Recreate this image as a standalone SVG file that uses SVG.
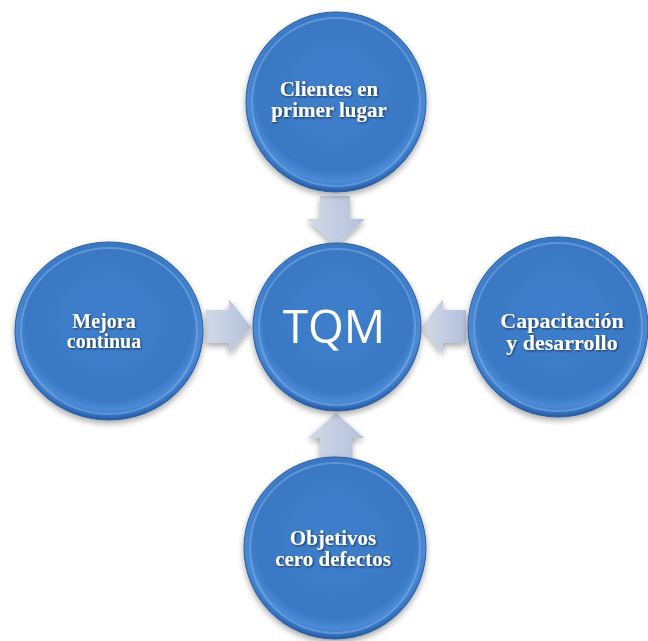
<svg xmlns="http://www.w3.org/2000/svg" width="648" height="641" viewBox="0 0 648 641">
  <defs>
    <radialGradient id="ball" cx="50%" cy="45%" r="55%">
      <stop offset="0" stop-color="#3f7fcb"/>
      <stop offset="0.8" stop-color="#3a78c4"/>
      <stop offset="0.9" stop-color="#4b8bd6"/>
      <stop offset="0.96" stop-color="#3370bd"/>
      <stop offset="1" stop-color="#24579b"/>
    </radialGradient>
    <linearGradient id="arrH" x1="0" y1="0" x2="1" y2="0">
      <stop offset="0" stop-color="#d2d9e8"/>
      <stop offset="1" stop-color="#b4c0da"/>
    </linearGradient>
    <filter id="shadow" x="-20%" y="-20%" width="140%" height="140%">
      <feGaussianBlur in="SourceAlpha" stdDeviation="3"/>
      <feOffset dy="3" result="b"/>
      <feComponentTransfer><feFuncA type="linear" slope="0.35"/></feComponentTransfer>
      <feMerge><feMergeNode/><feMergeNode in="SourceGraphic"/></feMerge>
    </filter>
    <filter id="tshadow" x="-10%" y="-30%" width="120%" height="160%">
      <feGaussianBlur in="SourceAlpha" stdDeviation="0.8"/>
      <feOffset dx="1" dy="1"/>
      <feComponentTransfer><feFuncA type="linear" slope="0.6"/></feComponentTransfer>
      <feMerge><feMergeNode/><feMergeNode in="SourceGraphic"/></feMerge>
    </filter>
  </defs>
  <style>
    .ball { fill: url(#ball); stroke: #2a5c9e; stroke-width: 1; }
    .rim { fill: none; stroke: #8fb8ea; stroke-opacity: 0.45; stroke-width: 2; }
    .lbl { font-family: "Liberation Serif", "Times New Roman", serif; font-weight: bold; fill: #ffffff; text-anchor: middle; }
    .big { font-family: "Open Sans", "Liberation Sans", Arial, sans-serif; font-size: 46px; fill: #ffffff; text-anchor: middle; }
    .arr { filter: url(#shadow); }
  </style>
  <rect width="648" height="641" fill="#ffffff"/>

  <g id="connectors">
    <polygon class="arr" fill="url(#arrH)" points="320,196 350,196 350,219 365,219 336,246 307,219 320,219"/>
    <polygon class="arr" fill="url(#arrH)" points="206,310 229,310 229,299 251,327 229,354 229,343 206,343"/>
    <polygon class="arr" fill="url(#arrH)" points="466,310 443,310 443,299 422,327 443,354 443,343 466,343"/>
    <polygon class="arr" fill="url(#arrH)" points="320,460 352,460 352,438 364,438 336,413 308,438 320,438"/>
  </g>

  <g id="node-top" filter="url(#shadow)">
    <circle class="ball" cx="336" cy="102" r="90"/>
    <circle class="rim" cx="336" cy="102" r="84"/>
    <text class="lbl" x="329" y="96" font-size="21" filter="url(#tshadow)">Clientes en</text>
    <text class="lbl" x="329" y="117" font-size="21" filter="url(#tshadow)">primer lugar</text>
  </g>

  <g id="node-left" filter="url(#shadow)">
    <ellipse class="ball" cx="109" cy="331" rx="94" ry="89"/>
    <ellipse class="rim" cx="109" cy="331" rx="88" ry="83"/>
    <text class="lbl" x="104" y="328" font-size="20" filter="url(#tshadow)">Mejora</text>
    <text class="lbl" x="104" y="348" font-size="20" filter="url(#tshadow)">continua</text>
  </g>

  <g id="node-right" filter="url(#shadow)">
    <circle class="ball" cx="558" cy="327" r="90"/>
    <circle class="rim" cx="558" cy="327" r="84"/>
    <text class="lbl" x="562" y="328" font-size="22" filter="url(#tshadow)">Capacitación</text>
    <text class="lbl" x="562" y="350" font-size="22" filter="url(#tshadow)">y desarrollo</text>
  </g>

  <g id="node-bottom" filter="url(#shadow)">
    <circle class="ball" cx="335" cy="548" r="91"/>
    <circle class="rim" cx="335" cy="548" r="85"/>
    <text class="lbl" x="333" y="545" font-size="21" filter="url(#tshadow)">Objetivos</text>
    <text class="lbl" x="333" y="566" font-size="21" filter="url(#tshadow)">cero defectos</text>
  </g>

  <g id="node-center" filter="url(#shadow)">
    <circle class="ball" cx="337" cy="327" r="84"/>
    <circle class="rim" cx="337" cy="327" r="78"/>
    <text class="big" x="334" y="343">TQM</text>
  </g>
</svg>
